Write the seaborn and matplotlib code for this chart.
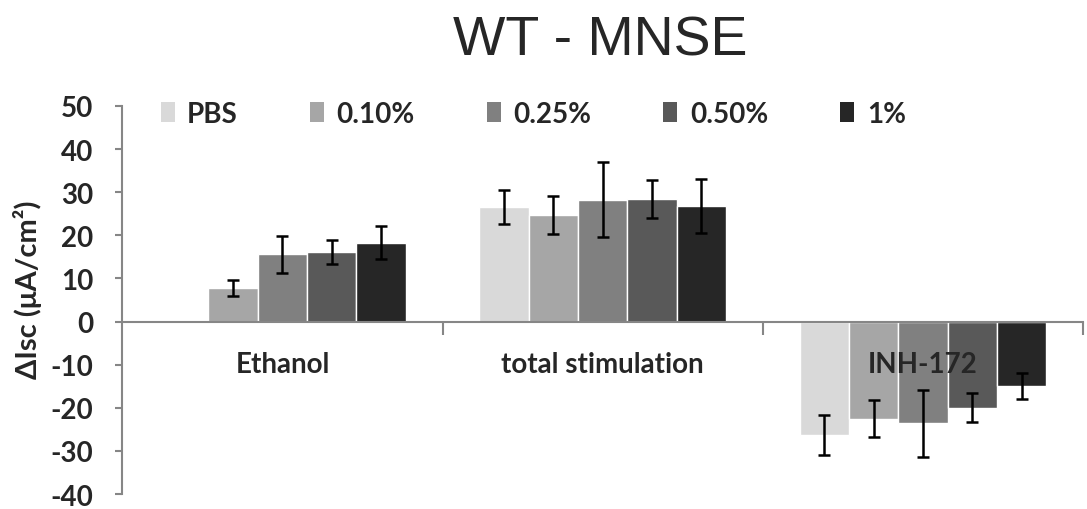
import numpy as np
import pandas as pd
import matplotlib
matplotlib.use("Agg")
import matplotlib.pyplot as plt
from matplotlib.patches import Patch
from matplotlib.container import BarContainer
import seaborn as sns

# values
conditions = ["Ethanol", "total stimulation", "INH-172"]
concentrations = ["PBS", "0.10%", "0.25%", "0.50%", "1%"]
colors = ["#d9d9d9", "#a6a6a6", "#808080", "#595959", "#262626"]

mean_ethanol = [np.nan, 7.8, 15.6, 16.1, 18.3]
err_ethanol = [np.nan, 1.8, 4.3, 2.8, 3.8]
mean_total = [26.5, 24.7, 28.2, 28.5, 26.8]
err_total = [3.9, 4.3, 8.7, 4.4, 6.3]
mean_inh = [-26.3, -22.5, -23.6, -20.0, -15.0]
err_inh = [4.7, 4.3, 7.8, 3.4, 3.0]

means = [mean_ethanol, mean_total, mean_inh]
errs = [err_ethanol, err_total, err_inh]

rows = []
for c, m in zip(conditions, means):
    for conc, v in zip(concentrations, m):
        rows.append({"cond": c, "conc": conc, "value": v})
df = pd.DataFrame(rows)

sns.set_style("white")
plt.rcParams['font.family'] = ['Lato', 'DejaVu Sans']
plt.rcParams['axes.unicode_minus'] = False

fig = plt.figure(figsize=(10.87, 5.10), dpi=100)
ax = fig.add_axes([0.1125, 0.0294, 0.884, 0.761])

sns.barplot(data=df, x="cond", y="value", hue="conc", order=conditions,
            hue_order=concentrations, palette=colors, width=0.77,
            errorbar=None, saturation=1, ax=ax, legend=False)

# error bars at bar centres
bar_conts = [c for c in ax.containers if isinstance(c, BarContainer)]
for hi, cont in enumerate(bar_conts):
    for bar in cont.patches:
        h = bar.get_height()
        if np.isnan(h) or h == 0:
            continue
        xc = bar.get_x() + bar.get_width() / 2
        ci = int(round(xc))
        e = errs[ci][hi]
        ax.errorbar(xc, h, yerr=e, fmt="none", ecolor="black",
                    elinewidth=1.8, capsize=4.5, capthick=1.8, zorder=5)

ax.set_xlim(-0.5, 2.5)
ax.set_ylim(-40, 50)
ax.set_yticks(range(-40, 51, 10))
ax.set_xlabel("")
ax.set_ylabel("")
ax.set_axisbelow(False)

gray = "#868686"
for s in ["top", "right"]:
    ax.spines[s].set_visible(False)
ax.spines["left"].set_color(gray)
ax.spines["left"].set_linewidth(1.5)
ax.spines["bottom"].set_position(("data", 0))
ax.spines["bottom"].set_color(gray)
ax.spines["bottom"].set_linewidth(1.5)

ax.tick_params(axis="y", which="major", direction="out", length=5, width=1.5,
               color=gray, left=True, pad=16, labelsize=20)
for t in ax.get_yticklabels():
    t.set_fontweight("bold")

ax.set_xticks([0, 1, 2])
ax.set_xticklabels(conditions, fontsize=20, fontweight="bold")
ax.set_xticks([0.5, 1.5, 2.5], minor=True)
ax.tick_params(axis="x", which="major", length=0, pad=21)
ax.tick_params(axis="x", which="minor", direction="out", length=9, width=1.5,
               color=gray, bottom=True)

handles = [Patch(facecolor=c, edgecolor="none") for c in colors]
fig.legend(handles, concentrations, loc="center left",
           bbox_to_anchor=(0.135, 1 - 115 / 510), ncol=5, frameon=False,
           handlelength=0.5, handleheight=0.75, handletextpad=0.45,
           columnspacing=2.6, borderpad=0, prop={"size": 20, "weight": "bold"})

fig.text(600 / 1087, 1 - 42 / 510, "WT - MNSE", ha="center", va="center",
         fontsize=40, family=["Liberation Sans", "DejaVu Sans"])
fig.text(28 / 1087, 1 - 290 / 510, "ΔIsc (μA/cm²)", rotation=90,
         ha="center", va="center", fontsize=21, fontweight="bold")

fig.savefig("out.png", dpi=100)
